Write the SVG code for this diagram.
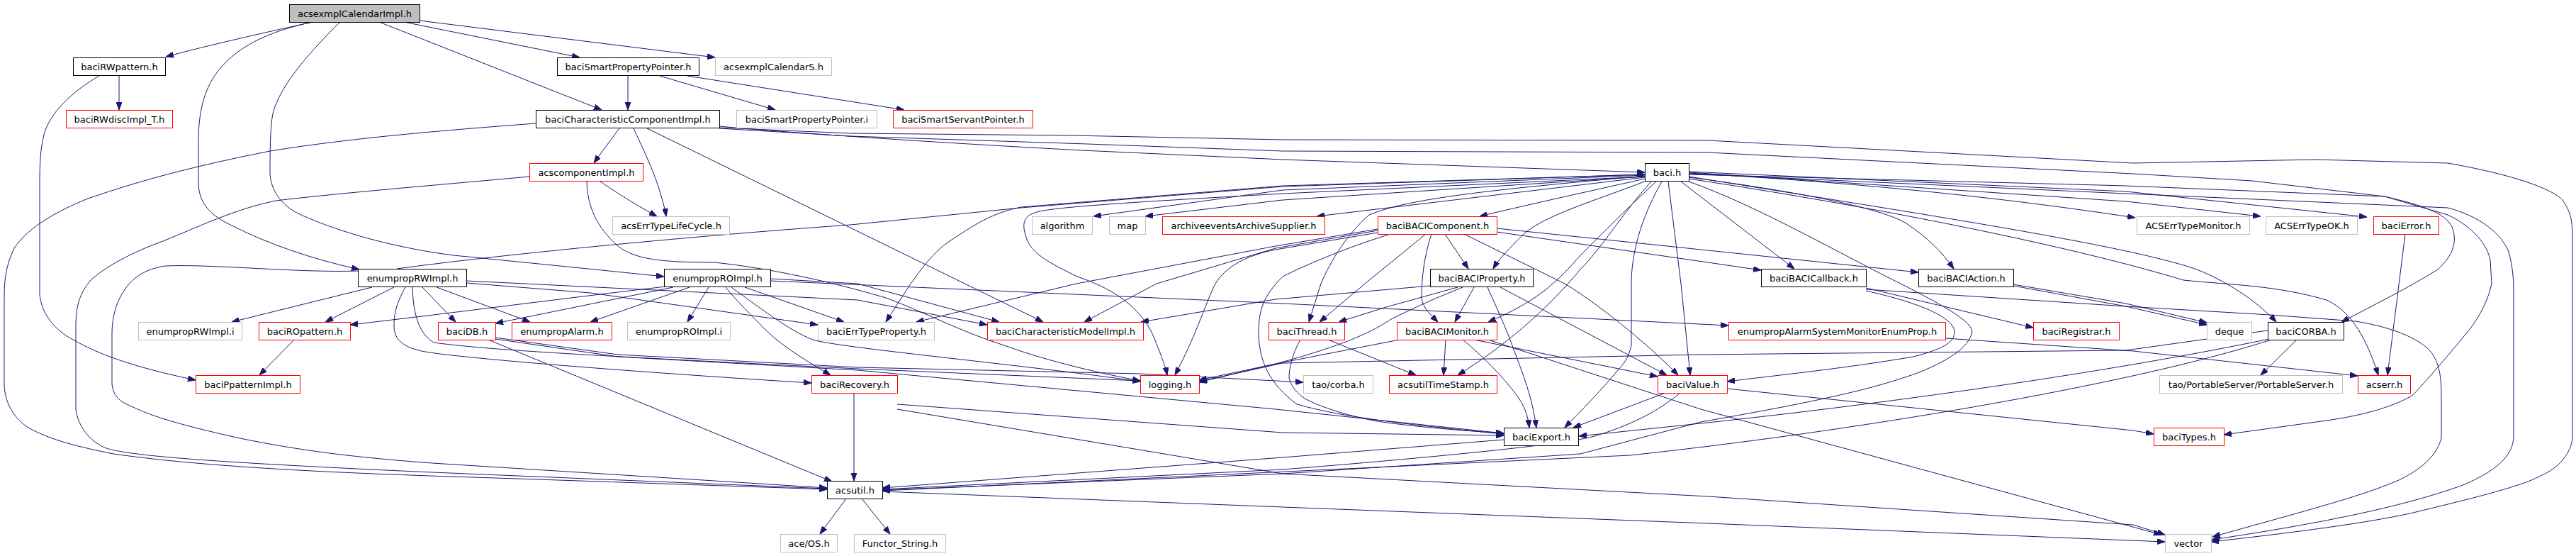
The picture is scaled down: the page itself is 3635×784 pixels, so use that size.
<svg xmlns="http://www.w3.org/2000/svg" width="3635" height="784" viewBox="0 0 3635 784">
<style>
.nd rect{fill:#fff;stroke:#000;stroke-width:1}
.rd rect{fill:#fff;stroke:#ff0000;stroke-width:1}
.gy rect{fill:#fff;stroke:#bfbfbf;stroke-width:1}
.rt rect{fill:#bfbfbf;stroke:#000;stroke-width:1}
text{font-family:"DejaVu Sans","Liberation Sans",sans-serif;font-size:13px;fill:#000;text-anchor:middle}
#edges path{fill:none;stroke:#191970;stroke-width:1;marker-end:url(#ah)}
</style>
<defs>
<marker id="ah" viewBox="0 0 11 8" refX="11" refY="4" markerWidth="11" markerHeight="8" orient="auto" markerUnits="userSpaceOnUse">
<path d="M0,0 L11,4 L0,8 z" fill="#191970" stroke="#191970" stroke-width="1"/>
</marker>
</defs>
<rect width="3635" height="784" fill="#fff"/>
<g id="edges">
<path d="M441,31 C410,38 300,62 234,80"/>
<path d="M441,31 C380,44 330,66 302,108 C285,135 280,165 280,200 L280,257 C280,285 295,302 323,316 C380,345 440,365 507,380"/>
<path d="M480,31 C440,70 395,120 385,160 C381,180 381,220 381,243 C381,265 395,290 425,303 C480,328 560,350 640,360 C760,372 860,382 937,390"/>
<path d="M535,31 L849,155"/>
<path d="M570,31 L818,81"/>
<path d="M592,29 L1009,81"/>
<path d="M168,107 L168,155"/>
<path d="M140,107 C100,130 70,160 62,190 C57,210 56,230 56,260 L56,415 C58,440 75,465 105,480 C140,500 190,518 276,536"/>
<path d="M886,107 L886,155"/>
<path d="M931,107 L1094,155"/>
<path d="M970,107 L1276,155"/>
<path d="M874,181 C862,197 850,213 838,230"/>
<path d="M894,181 C905,205 925,245 934,280 C937,290 939,298 940,305"/>
<path d="M913,181 L1472,454"/>
<path d="M756,174 C650,182 505,193 381,213 C280,233 202,253 124,280 C80,298 40,320 20,350 C8,375 6,395 6,420 L6,545 C8,570 20,590 40,603 C70,620 110,630 160,640 C300,660 500,668 700,674 L1167,690"/>
<path d="M1015,178 C1100,186 1300,200 1527,212 L1810,225 L2321,243"/>
<path d="M1015,180 L1200,188 L1511,191 L1810,197 L2410,198 L3010,230 L3267,225 L3454,230 C3540,245 3600,265 3616,282 C3628,300 3630,310 3630,340 L3630,617 C3628,640 3610,660 3587,670 C3560,685 3500,700 3405,723 C3330,740 3200,755 3120,764"/>
<path d="M1015,181 L1200,192 L1534,203 L1810,213 L2410,215 L3010,245 L3178,255 L3365,277 C3420,290 3450,300 3460,320 C3468,340 3462,360 3440,380 C3400,405 3350,430 3304,454"/>
<path d="M847,256 C865,268 890,285 927,305"/>
<path d="M747,249 C650,258 480,272 389,283 C330,295 280,320 230,340 C183,357 148,377 128,395 C113,413 107,430 107,460 L107,577 C110,600 125,622 150,632 C185,643 300,652 610,666 L1167,689"/>
<path d="M828,256 C829,290 841,320 872,347 C895,365 930,370 1008,370 C1086,378 1176,398 1250,420 C1300,438 1356,468 1420,488 C1480,510 1560,528 1609,537"/>
<path d="M560,379 C700,360 950,335 1200,317 L1441,293 L1810,263 L2321,246"/>
<path d="M505,382 C420,385 300,372 233,375 C200,380 185,395 175,410 C163,427 158,450 158,470 L158,542 C160,558 168,565 179,570 C210,585 237,595 334,617 C420,635 500,645 610,653 L1167,688"/>
<path d="M525,405 L327,454"/>
<path d="M556,405 L459,454"/>
<path d="M596,405 L643,454"/>
<path d="M616,405 L748,454"/>
<path d="M658,399 L833,413 L1154,458"/>
<path d="M572,405 C558,430 556,445 556,460 C556,475 565,488 591,494 C620,503 900,525 1145,540"/>
<path d="M582,405 C583,440 590,470 612,483 C700,495 872,503 1210,520 L1609,537"/>
<path d="M658,396 L1210,423 L1393,458"/>
<path d="M940,404 C800,420 650,440 494,458"/>
<path d="M950,405 L699,456"/>
<path d="M973,405 L833,454"/>
<path d="M1000,405 L970,454"/>
<path d="M1051,405 L1191,454"/>
<path d="M1024,405 C1040,425 1059,443 1080,465 C1106,490 1140,510 1172,529"/>
<path d="M1032,405 C1080,440 1120,470 1150,480 C1200,492 1450,515 1609,538"/>
<path d="M1087,396 L1810,428 L2439,459"/>
<path d="M1087,393 L1210,400 L1410,454"/>
<path d="M2321,247 L1810,268 L1543,305"/>
<path d="M2321,249 L1810,282 L1616,305"/>
<path d="M2321,250 L1858,305"/>
<path d="M2321,252 C2228,273 2150,290 2088,305"/>
<path d="M2323,255 C2251,283 2181,303 2150,330 C2130,350 2115,365 2107,379"/>
<path d="M2321,246 L1810,262 L1441,292 C1400,300 1375,317 1340,340 C1317,355 1300,380 1285,400 L1250,454"/>
<path d="M2321,249 L1810,273 C1600,285 1480,292 1460,300 C1445,305 1440,315 1450,340 C1460,360 1480,370 1520,390 C1580,410 1615,440 1630,480 C1640,505 1645,518 1647,529"/>
<path d="M2321,248 C2100,268 1987,280 1932,303 C1901,330 1878,367 1864,400 L1847,454"/>
<path d="M2337,256 C2300,290 2260,330 2230,360 C2200,395 2170,425 2100,454"/>
<path d="M2330,256 C2290,300 2260,350 2230,380 C2180,440 2120,490 2057,529"/>
<path d="M2345,256 C2320,300 2302,350 2302,400 L2302,487 C2298,505 2290,515 2282,523 C2260,550 2230,580 2208,603"/>
<path d="M2354,256 L2372,400 L2385,529"/>
<path d="M2372,256 L2532,379"/>
<path d="M2383,250 C2500,265 2650,290 2690,315 C2720,335 2740,355 2757,379"/>
<path d="M2383,244 C2700,262 2900,290 3013,307"/>
<path d="M2383,243 L3000,284 L3190,305"/>
<path d="M2383,242 L3000,270 L3340,306"/>
<path d="M2383,249 C2700,300 3000,345 3100,380 C3150,400 3190,430 3212,454"/>
<path d="M2383,252 C2700,300 2950,355 3081,395 C3150,402 3210,402 3283,423 C3320,440 3340,480 3356,529"/>
<path d="M2383,246 L3000,262 L3365,277 L3454,303 C3490,320 3510,345 3514,367 L3516,400 C3512,420 3500,445 3486,463 C3460,495 3430,530 3405,557 C3380,572 3340,585 3283,593 L3138,613"/>
<path d="M2383,245 L3000,273 L3454,293 C3500,305 3530,330 3540,355 C3547,380 3547,400 3547,420 L3547,617 C3545,640 3530,660 3478,683 C3400,712 3283,737 3121,761"/>
<path d="M2383,256 C2480,290 2600,360 2688,403 C2730,425 2780,450 2783,467 C2780,485 2760,505 2703,527 C2650,545 2600,560 2400,595 L2230,640 L1810,668 L1245,691"/>
<path d="M2039,330 L2072,379"/>
<path d="M2112,327 L2410,370 L2485,381"/>
<path d="M2112,322 L2410,353 L2707,384"/>
<path d="M2012,330 L1926,400 L1862,454"/>
<path d="M2020,330 C2010,360 2006,390 2006,420 C2008,435 2020,445 2029,454"/>
<path d="M2066,330 L2208,400 C2250,425 2320,480 2368,529"/>
<path d="M1944,323 L1800,347 L1519,400 L1293,454"/>
<path d="M1944,325 L1800,350 L1632,400 L1530,454"/>
<path d="M1944,328 L1800,352 C1760,360 1730,375 1715,400 C1700,430 1690,468 1658,529"/>
<path d="M1959,331 C1897,350 1835,377 1810,390 C1780,420 1776,440 1776,473 C1778,510 1790,540 1830,570 C1900,590 2000,600 2122,612"/>
<path d="M2080,405 L2053,454"/>
<path d="M2099,405 C2110,430 2123,457 2135,490 C2150,530 2162,560 2168,603"/>
<path d="M2117,405 L2352,529"/>
<path d="M2057,405 L1956,433 L1889,454"/>
<path d="M2064,405 C2040,415 2018,423 1963,450 C1936,468 1897,487 1800,513 L1692,536"/>
<path d="M2018,403 L1800,422 L1610,454"/>
<path d="M2040,479 L2037,529"/>
<path d="M2064,479 C2090,500 2120,530 2140,557 C2150,570 2156,585 2158,603"/>
<path d="M2080,479 L2339,531"/>
<path d="M1975,479 L1800,513 L1692,539"/>
<path d="M2103,480 L2400,577 L3050,754"/>
<path d="M1874,479 L1998,529"/>
<path d="M1835,479 C1823,500 1819,520 1819,533 C1822,545 1830,555 1843,563 C1870,577 1917,590 1950,595 C2000,602 2060,607 2122,611"/>
<path d="M2633,406 L2869,462"/>
<path d="M2633,408 L3000,432 L3114,458"/>
<path d="M2841,401 L3000,428 L3114,455"/>
<path d="M2633,410 C2700,425 2755,445 2758,467 C2758,480 2750,490 2700,503 C2600,520 2500,530 2437,538"/>
<path d="M2841,403 L3000,432 L3203,444 L3324,453 C3380,462 3420,480 3433,500 C3442,515 3445,530 3445,560 L3445,617 C3440,640 3420,660 3385,677 C3330,700 3283,712 3122,757"/>
<path d="M2745,477 L3010,495 L3327,530"/>
<path d="M689,479 L1174,679"/>
<path d="M699,476 L872,500 L1210,518 L1608,527 L1839,539"/>
<path d="M699,478 L872,503 L1210,522 L1800,577 L2122,611"/>
<path d="M1205,554 L1205,678"/>
<path d="M1266,570 L1810,610 L2122,614"/>
<path d="M1266,577 L1810,668 L2410,700 L3010,740 L3055,754"/>
<path d="M1194,703 L1157,753"/>
<path d="M1216,703 L1256,753"/>
<path d="M1245,693 L1810,715 L2410,738 L3055,764"/>
<path d="M2122,620 L1810,645 L1245,688"/>
<path d="M2350,554 L2220,603"/>
<path d="M2371,554 C2340,580 2300,600 2250,615 C2200,630 1900,655 1810,662 L1245,690"/>
<path d="M2437,548 L3010,607 L3039,612"/>
<path d="M3241,479 L3190,529"/>
<path d="M3200,466 L3000,494 L2400,500 L1810,512 L1692,538"/>
<path d="M3202,478 C3000,520 2700,565 2400,597 L2228,615"/>
<path d="M3205,479 C3000,545 2600,610 2300,642 L1245,692"/>
<path d="M3394,330 L3369,529"/>
<path d="M415,479 L366,529"/>
</g>
<g id="n1" class="rt"><rect x="408.5" y="6.5" width="184" height="25"/><text x="500.5" y="23.5">acsexmplCalendarImpl.h</text></g>
<g id="n2" class="nd"><rect x="103.5" y="81.5" width="130" height="25"/><text x="168.5" y="98.5">baciRWpattern.h</text></g>
<g id="n3" class="nd"><rect x="786.5" y="81.5" width="200" height="25"/><text x="886.5" y="98.5">baciSmartPropertyPointer.h</text></g>
<g id="n4" class="gy"><rect x="1009.5" y="81.5" width="164" height="25"/><text x="1091.5" y="98.5">acsexmplCalendarS.h</text></g>
<g id="n5" class="rd"><rect x="93.5" y="155.5" width="150" height="25"/><text x="168.5" y="172.5">baciRWdiscImpl_T.h</text></g>
<g id="n6" class="nd"><rect x="756.5" y="155.5" width="259" height="25"/><text x="886" y="172.5">baciCharacteristicComponentImpl.h</text></g>
<g id="n7" class="gy"><rect x="1039.5" y="155.5" width="198" height="25"/><text x="1138.5" y="172.5">baciSmartPropertyPointer.i</text></g>
<g id="n8" class="rd"><rect x="1260.5" y="155.5" width="197" height="25"/><text x="1359" y="172.5">baciSmartServantPointer.h</text></g>
<g id="n9" class="rd"><rect x="747.5" y="230.5" width="160" height="25"/><text x="827.5" y="247.5">acscomponentImpl.h</text></g>
<g id="n10" class="nd"><rect x="2321.5" y="230.5" width="62" height="25"/><text x="2352.5" y="247.5">baci.h</text></g>
<g id="n11" class="gy"><rect x="864.5" y="305.5" width="165" height="25"/><text x="947" y="322.5">acsErrTypeLifeCycle.h</text></g>
<g id="n12" class="gy"><rect x="1456.5" y="305.5" width="85" height="25"/><text x="1499" y="322.5">algorithm</text></g>
<g id="n13" class="gy"><rect x="1565.5" y="305.5" width="51" height="25"/><text x="1591" y="322.5">map</text></g>
<g id="n14" class="rd"><rect x="1640.5" y="305.5" width="229" height="25"/><text x="1755" y="322.5">archiveeventsArchiveSupplier.h</text></g>
<g id="n15" class="rd"><rect x="1944.5" y="305.5" width="168" height="25"/><text x="2028.5" y="322.5">baciBACIComponent.h</text></g>
<g id="n16" class="gy"><rect x="3015.5" y="305.5" width="159" height="25"/><text x="3095" y="322.5">ACSErrTypeMonitor.h</text></g>
<g id="n17" class="gy"><rect x="3197.5" y="305.5" width="129" height="25"/><text x="3262" y="322.5">ACSErrTypeOK.h</text></g>
<g id="n18" class="rd"><rect x="3349.5" y="305.5" width="92" height="25"/><text x="3395.5" y="322.5">baciError.h</text></g>
<g id="n19" class="nd"><rect x="505.5" y="379.5" width="153" height="25"/><text x="582" y="396.5">enumpropRWImpl.h</text></g>
<g id="n20" class="nd"><rect x="937.5" y="379.5" width="150" height="25"/><text x="1012.5" y="396.5">enumpropROImpl.h</text></g>
<g id="n21" class="nd"><rect x="2018.5" y="379.5" width="145" height="25"/><text x="2091" y="396.5">baciBACIProperty.h</text></g>
<g id="n22" class="nd"><rect x="2485.5" y="379.5" width="148" height="25"/><text x="2559.5" y="396.5">baciBACICallback.h</text></g>
<g id="n23" class="nd"><rect x="2707.5" y="379.5" width="134" height="25"/><text x="2774.5" y="396.5">baciBACIAction.h</text></g>
<g id="n24" class="gy"><rect x="195.5" y="454.5" width="146" height="25"/><text x="268.5" y="471.5">enumpropRWImpl.i</text></g>
<g id="n25" class="rd"><rect x="365.5" y="454.5" width="129" height="25"/><text x="430" y="471.5">baciROpattern.h</text></g>
<g id="n26" class="rd"><rect x="618.5" y="454.5" width="81" height="25"/><text x="659" y="471.5">baciDB.h</text></g>
<g id="n27" class="rd"><rect x="722.5" y="454.5" width="141" height="25"/><text x="793" y="471.5">enumpropAlarm.h</text></g>
<g id="n28" class="gy"><rect x="885.5" y="454.5" width="145" height="25"/><text x="958" y="471.5">enumpropROImpl.i</text></g>
<g id="n29" class="gy"><rect x="1154.5" y="454.5" width="164" height="25"/><text x="1236.5" y="471.5">baciErrTypeProperty.h</text></g>
<g id="n30" class="rd"><rect x="1393.5" y="454.5" width="220" height="25"/><text x="1503.5" y="471.5">baciCharacteristicModelImpl.h</text></g>
<g id="n31" class="rd"><rect x="1790.5" y="454.5" width="107" height="25"/><text x="1844" y="471.5">baciThread.h</text></g>
<g id="n32" class="rd"><rect x="1971.5" y="454.5" width="141" height="25"/><text x="2042" y="471.5">baciBACIMonitor.h</text></g>
<g id="n33" class="rd"><rect x="2439.5" y="454.5" width="306" height="25"/><text x="2592.5" y="471.5">enumpropAlarmSystemMonitorEnumProp.h</text></g>
<g id="n34" class="rd"><rect x="2869.5" y="454.5" width="121" height="25"/><text x="2930" y="471.5">baciRegistrar.h</text></g>
<g id="n35" class="gy"><rect x="3114.5" y="454.5" width="63" height="25"/><text x="3146" y="471.5">deque</text></g>
<g id="n36" class="nd"><rect x="3200.5" y="454.5" width="107" height="25"/><text x="3254" y="471.5">baciCORBA.h</text></g>
<g id="n37" class="rd"><rect x="276.5" y="529.5" width="147" height="25"/><text x="350" y="546.5">baciPpatternImpl.h</text></g>
<g id="n38" class="rd"><rect x="1145.5" y="529.5" width="121" height="25"/><text x="1206" y="546.5">baciRecovery.h</text></g>
<g id="n39" class="rd"><rect x="1609.5" y="529.5" width="83" height="25"/><text x="1651" y="546.5">logging.h</text></g>
<g id="n40" class="gy"><rect x="1839.5" y="529.5" width="98" height="25"/><text x="1888.5" y="546.5">tao/corba.h</text></g>
<g id="n41" class="rd"><rect x="1960.5" y="529.5" width="152" height="25"/><text x="2036.5" y="546.5">acsutilTimeStamp.h</text></g>
<g id="n42" class="rd"><rect x="2339.5" y="529.5" width="98" height="25"/><text x="2388.5" y="546.5">baciValue.h</text></g>
<g id="n43" class="gy"><rect x="3047.5" y="529.5" width="258" height="25"/><text x="3176.5" y="546.5">tao/PortableServer/PortableServer.h</text></g>
<g id="n44" class="rd"><rect x="3327.5" y="529.5" width="74" height="25"/><text x="3364.5" y="546.5">acserr.h</text></g>
<g id="n45" class="nd"><rect x="2122.5" y="603.5" width="105" height="25"/><text x="2175" y="620.5">baciExport.h</text></g>
<g id="n46" class="rd"><rect x="3039.5" y="603.5" width="99" height="25"/><text x="3089" y="620.5">baciTypes.h</text></g>
<g id="n47" class="nd"><rect x="1167.5" y="678.5" width="78" height="25"/><text x="1206.5" y="695.5">acsutil.h</text></g>
<g id="n48" class="gy"><rect x="1101.5" y="753.5" width="80" height="25"/><text x="1141.5" y="770.5">ace/OS.h</text></g>
<g id="n49" class="gy"><rect x="1205.5" y="753.5" width="129" height="25"/><text x="1270" y="770.5">Functor_String.h</text></g>
<g id="n50" class="gy"><rect x="3055.5" y="753.5" width="65" height="25"/><text x="3088" y="770.5">vector</text></g>
</svg>
